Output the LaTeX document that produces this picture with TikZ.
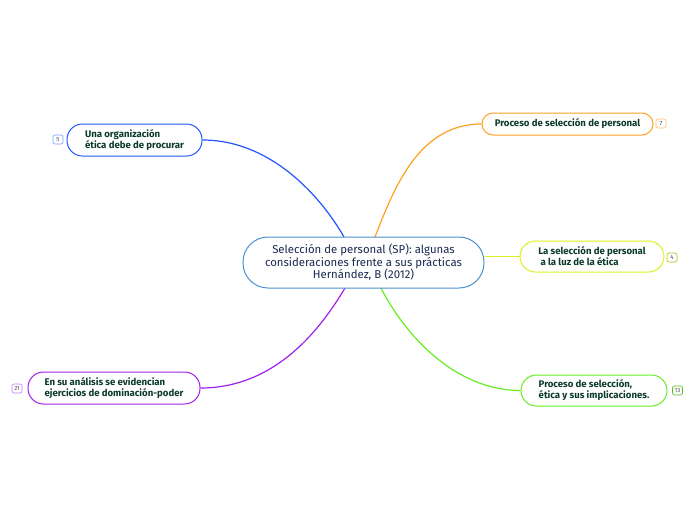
\documentclass[tikz,border=0pt]{standalone}
\usepackage{fontspec}
\setmainfont{Fira Sans}
\definecolor{cblue}{HTML}{2255FF}
\definecolor{corange}{HTML}{FFA020}
\definecolor{cpurple}{HTML}{A020F0}
\definecolor{cgreen}{HTML}{66EE22}
\definecolor{cyellow}{HTML}{DDF020}
\definecolor{ccenter}{HTML}{4A90D0}
\definecolor{tnavy}{HTML}{1A2A50}
\definecolor{tgreen}{HTML}{0A3A2A}
\tikzset{
  topic/.style={rectangle, rounded corners=15.5pt, draw=#1, line width=1pt, fill=white, minimum height=32pt, inner xsep=0pt, text=tgreen, font=\fontsize{9.6}{11}\selectfont\bfseries, align=left},
  badge/.style={rounded corners=2pt, draw=#1, line width=0.6pt, fill=white, font=\fontsize{6}{6}\selectfont, text=black!70, inner sep=1.5pt, minimum width=10pt, minimum height=9pt},
  conn/.style={line width=1.2pt, draw=#1}
}
\begin{document}
\begin{tikzpicture}[x=1pt,y=-1pt]
\useasboundingbox (0,0) rectangle (696,520);
\coordinate (ctl) at (344,237);
\coordinate (ctr) at (375,237);
\coordinate (cbl) at (345,288);
\coordinate (cbr) at (381,288);
\node[topic=cblue, minimum width=135pt] (n1) at (134.5,140) {Una organización\\ética debe de procurar};
\node[topic=cpurple, minimum width=172pt] (n2) at (114,388) {En su análisis se evidencian\\ejercicios de dominación-poder};
\node[topic=corange, minimum width=171pt, minimum height=22pt, rounded corners=11pt] (n3) at (567.5,124) {Proceso de selección de personal};
\node[topic=cyellow, minimum width=144pt, minimum height=31pt] (n4) at (592,256.5) {La selección de personal\\\ a la luz de la ética};
\node[topic=cgreen, minimum width=146pt, minimum height=31pt] (n5) at (594,390.5) {Proceso de selección,\\ética y sus implicaciones.};
\draw[conn=cblue] (n1.east) .. controls (270,140) and (320,195) .. (ctl);
\draw[conn=cpurple] (n2.east) .. controls (275,388) and (320,330) .. (cbl);
\draw[conn=corange] (n3.west) .. controls (420,124) and (395,185) .. (ctr);
\draw[conn=cgreen] (cbr) .. controls (405,335) and (455,390.5) .. (n5.west);
\node[rectangle, rounded corners=25pt, draw=ccenter, line width=1pt, fill=white, minimum width=241pt, minimum height=51pt, inner xsep=0pt, text=tnavy, font=\fontsize{11.4}{12.6}\selectfont, align=center] (c) at (363.5,262.5) {Selección de personal (SP): algunas\\consideraciones frente a sus prácticas\\Hernández, B (2012)};
\draw[line width=1pt, draw=cyellow] (c.east |- n4.west) -- (n4.west);
\node[badge=cblue!60] (b1) at (58,139.5) {5};
\node[badge=cpurple!60] (b2) at (17,388.5) {21};
\node[badge=corange!70] (b3) at (661,123.5) {7};
\node[badge=cyellow!80!black] (b4) at (672,257.5) {4};
\node[badge=cgreen!80!black] (b5) at (677.5,390.5) {13};
\end{tikzpicture}
\end{document}
